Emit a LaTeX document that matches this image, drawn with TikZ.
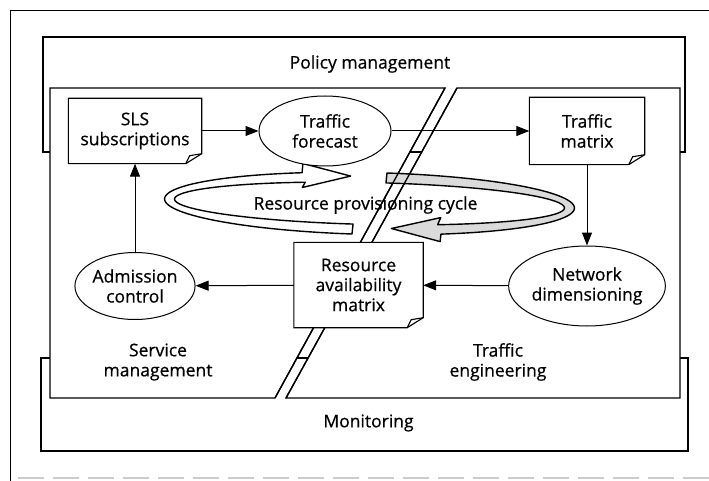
\documentclass[tikz,border=0pt]{standalone}
\usepackage{fontspec}
\setmainfont{Open Sans}[FakeBold=0.6]
\usetikzlibrary{arrows.meta,shapes.geometric}
\begin{document}
\begin{tikzpicture}[x=1pt,y=-1pt,
  txt/.style={font=\fontsize{17.5}{20}\selectfont, align=center, inner sep=0pt},
  docbox/.style={txt, rectangle, fill=white},
  oval/.style={txt, ellipse, draw, line width=1pt, fill=white},
  framel/.style={line width=1.3pt, line join=miter},
  docline/.style={line width=1.1pt, line join=miter},
  flow/.style={line width=1pt, -{Triangle[length=13pt,width=10pt]}},
  band/.style={line width=1.4pt, line join=round}
]
\useasboundingbox (0,0) rectangle (709,481);

% outer frame (cropped)
\coordinate (o1) at (10,481);
\coordinate (o2) at (10,11);
\coordinate (o3) at (709,11);
\draw[line width=1pt] (o1) -- (o2) -- (o3);
\coordinate (g1) at (18,478);
\coordinate (g2) at (709,478);
\draw[gray!40, line width=1.2pt, dash pattern=on 26pt off 9pt] (g1) -- (g2);

% policy and monitoring frames
\draw[framel, fill=white] (43,37) rectangle (685,152);
\draw[framel, fill=white] (41,358) rectangle (688,451);

% service management / traffic engineering regions
\coordinate (L1) at (50,88);
\coordinate (L2) at (445,88);
\coordinate (L3) at (275,398);
\coordinate (L4) at (50,398);
\coordinate (R1) at (457,88);
\coordinate (R2) at (680,88);
\coordinate (R3) at (680,398);
\coordinate (R4) at (286,398);
\draw[framel, fill=white] (L1) -- (L2) -- (L3) -- (L4) -- cycle;
\draw[framel, fill=white] (R1) -- (R2) -- (R3) -- (R4) -- cycle;

% resource provisioning cycle
\begin{scope}[rotate around={-1.3:(369.5,203.5)}]
\filldraw[band, fill=white]
  plot[domain=94.7:250.6, samples=90, variable=\t] ({369.5+205*cos(\t)},{203.5+31*sin(\t)})
  -- (302,165) -- (350,176.5) -- (302,189)
  -- plot[domain=250.6:94.7, samples=90, variable=\t] ({369.5+195*cos(\t)},{203.5+21*sin(\t)})
  -- cycle;
\filldraw[band, fill=gray!28]
  plot[domain=274.7:429.4, samples=90, variable=\t] ({369.5+205*cos(\t)},{203.5+31*sin(\t)})
  -- (441,240) -- (392,228) -- (441,216)
  -- plot[domain=429.4:274.7, samples=90, variable=\t] ({369.5+195*cos(\t)},{203.5+21*sin(\t)})
  -- cycle;
\end{scope}
\draw[framel] (L2) -- (L3);
\draw[framel] (R1) -- (R4);

% nodes
\node[docbox, minimum width=133pt, minimum height=65pt] (sls) at (135,131) {SLS\\subscriptions};
\node[oval, minimum width=132pt, minimum height=70pt] (fc) at (325,131) {Traffic\\forecast};
\node[docbox, minimum width=115pt, minimum height=67pt] (tm) at (587,131) {Traffic\\matrix};
\node[oval, minimum width=152pt, minimum height=80pt] (nd) at (587,286) {Network\\dimensioning};
\node[docbox, minimum width=129pt, minimum height=85pt] (ra) at (358.5,285) {Resource\\availability\\matrix};
\node[oval, minimum width=120pt, minimum height=67pt] (ac) at (135,286) {Admission\\control};

% document outlines with folded corner
\foreach \n in {sls,tm,ra}{
  \draw[docline] (\n.north west) -- (\n.north east) -- ([yshift=10pt]\n.south east)
    -- ([xshift=-16pt]\n.south east) -- (\n.south west) -- cycle;
  \draw[docline] ([xshift=-16pt]\n.south east) -- ([xshift=-12pt,yshift=8pt]\n.south east)
    -- ([yshift=10pt]\n.south east);
}

% connectors
\draw[flow] (sls) -- (fc);
\draw[flow] (fc) -- (tm);
\draw[flow] (tm) -- (nd);
\draw[flow] (nd) -- (ra);
\draw[flow] (ra) -- (ac);
\draw[flow] (ac) -- (sls);

% labels
\node[txt] (pm) at (370,64) {Policy management};
\node[txt] (mon) at (368.5,423) {Monitoring};
\node[txt] (sm) at (158,362) {Service\\management};
\node[txt] (te) at (498,362) {Traffic\\engineering};
\node[txt] (rpc) at (365.5,205) {Resource provisioning cycle};
\end{tikzpicture}
\end{document}
